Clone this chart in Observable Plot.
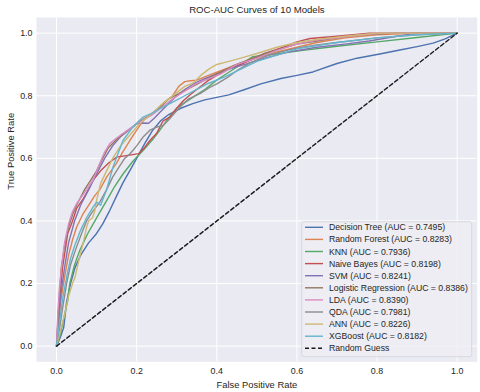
<!DOCTYPE html>
<html><head><meta charset="utf-8">
<script src="https://cdn.jsdelivr.net/npm/d3@7"></script>
<script src="https://cdn.jsdelivr.net/npm/@observablehq/plot@0.6"></script>
<style>body{margin:0;background:#fff} svg{font-family:"Liberation Sans",Arial,sans-serif}</style>
</head><body><div id="chart"></div>
<script>
const modelNames = ["Decision Tree","Random Forest","KNN","Naive Bayes","SVM","Logistic Regression","LDA","QDA","ANN","XGBoost"];
const aucValues = ["0.7495","0.8283","0.7936","0.8198","0.8241","0.8386","0.8390","0.7981","0.8226","0.8182"];
const palette = ["#4C72B0","#DD8452","#55A868","#C44E52","#8172B3","#937860","#DA8BC3","#8C8C8C","#CCB974","#64B5CD"];
const tickValues = [0,0.2,0.4,0.6,0.8,1.0];

const decisionTree = [[0,0],[0.01,0.03],[0.018,0.06],[0.025,0.14],[0.035,0.2],[0.046,0.25],[0.06,0.29],[0.08,0.33],[0.1,0.36],[0.115,0.39],[0.133,0.434],[0.15,0.48],[0.165,0.52],[0.183,0.561],[0.2,0.6],[0.22,0.647],[0.24,0.69],[0.26,0.72],[0.28,0.74],[0.31,0.76],[0.34,0.775],[0.37,0.787],[0.4,0.795],[0.43,0.803],[0.47,0.82],[0.51,0.838],[0.56,0.855],[0.6,0.865],[0.64,0.876],[0.7,0.903],[0.75,0.92],[0.81,0.934],[0.86,0.947],[0.9,0.957],[0.94,0.968],[0.97,0.982],[1,1]];
const randomForest = [[0,0],[0.005,0.06],[0.01,0.14],[0.02,0.22],[0.03,0.29],[0.04,0.34],[0.05,0.38],[0.065,0.42],[0.08,0.45],[0.095,0.48],[0.108,0.5],[0.125,0.54],[0.15,0.585],[0.165,0.62],[0.183,0.657],[0.2,0.69],[0.216,0.72],[0.235,0.74],[0.255,0.76],[0.27,0.78],[0.29,0.8],[0.305,0.83],[0.32,0.845],[0.335,0.848],[0.35,0.85],[0.37,0.86],[0.4,0.875],[0.43,0.89],[0.46,0.905],[0.5,0.92],[0.55,0.94],[0.6,0.955],[0.65,0.97],[0.72,0.985],[0.8,0.995],[0.9,1],[1,1]];
const knn = [[0,0],[0.01,0.04],[0.02,0.1],[0.028,0.146],[0.033,0.2],[0.045,0.26],[0.058,0.306],[0.078,0.36],[0.1,0.41],[0.125,0.465],[0.145,0.51],[0.166,0.55],[0.19,0.59],[0.216,0.625],[0.24,0.66],[0.258,0.69],[0.28,0.73],[0.3,0.76],[0.316,0.775],[0.34,0.795],[0.37,0.82],[0.4,0.85],[0.43,0.875],[0.46,0.9],[0.49,0.925],[0.55,0.934],[0.61,0.944],[0.7,0.958],[0.8,0.972],[0.9,0.986],[1,1]];
const naiveBayes = [[0,0],[0.005,0.1],[0.01,0.18],[0.015,0.25],[0.022,0.31],[0.028,0.36],[0.04,0.4],[0.05,0.44],[0.066,0.47],[0.08,0.5],[0.091,0.53],[0.11,0.56],[0.13,0.585],[0.15,0.604],[0.17,0.608],[0.19,0.612],[0.205,0.615],[0.22,0.635],[0.233,0.657],[0.25,0.68],[0.266,0.72],[0.283,0.732],[0.3,0.76],[0.317,0.785],[0.335,0.805],[0.358,0.828],[0.38,0.85],[0.4,0.865],[0.43,0.885],[0.46,0.9],[0.483,0.913],[0.52,0.935],[0.566,0.955],[0.6,0.972],[0.633,0.983],[0.7,0.99],[0.78,1],[1,1]];
const svm = [[0,0],[0.005,0.08],[0.01,0.16],[0.02,0.25],[0.03,0.33],[0.045,0.4],[0.06,0.45],[0.08,0.5],[0.1,0.55],[0.12,0.6],[0.14,0.64],[0.16,0.67],[0.18,0.69],[0.2,0.71],[0.215,0.713],[0.23,0.712],[0.245,0.73],[0.26,0.75],[0.28,0.775],[0.3,0.8],[0.32,0.82],[0.345,0.84],[0.37,0.855],[0.4,0.87],[0.43,0.885],[0.47,0.9],[0.52,0.92],[0.58,0.94],[0.65,0.955],[0.72,0.965],[0.78,0.975],[0.85,0.99],[0.9,1],[1,1]];
const logisticRegression = [[0,0],[0.004,0.1],[0.008,0.18],[0.012,0.25],[0.02,0.32],[0.03,0.38],[0.04,0.42],[0.05,0.45],[0.058,0.47],[0.07,0.5],[0.085,0.53],[0.1,0.56],[0.115,0.6],[0.13,0.635],[0.15,0.66],[0.17,0.68],[0.19,0.7],[0.21,0.72],[0.235,0.74],[0.26,0.765],[0.28,0.79],[0.31,0.81],[0.34,0.83],[0.37,0.85],[0.4,0.87],[0.44,0.895],[0.48,0.915],[0.52,0.935],[0.56,0.95],[0.6,0.965],[0.65,0.975],[0.7,0.985],[0.76,0.995],[0.85,1],[1,1]];
const lda = [[0,0],[0.003,0.1],[0.007,0.18],[0.0125,0.252],[0.02,0.33],[0.03,0.39],[0.04,0.43],[0.05,0.455],[0.058,0.47],[0.075,0.5],[0.091,0.53],[0.105,0.575],[0.12,0.62],[0.133,0.647],[0.15,0.665],[0.166,0.68],[0.183,0.695],[0.2,0.71],[0.22,0.725],[0.24,0.74],[0.26,0.76],[0.29,0.79],[0.32,0.815],[0.35,0.84],[0.38,0.855],[0.41,0.87],[0.45,0.9],[0.5,0.92],[0.55,0.945],[0.6,0.965],[0.65,0.978],[0.7,0.985],[0.76,0.995],[0.82,1],[1,1]];
const qda = [[0,0],[0.008,0.06],[0.015,0.12],[0.025,0.2],[0.035,0.26],[0.048,0.31],[0.0625,0.36],[0.075,0.4],[0.09,0.43],[0.108,0.46],[0.125,0.5],[0.14,0.54],[0.155,0.57],[0.17,0.6],[0.183,0.614],[0.2,0.64],[0.216,0.668],[0.233,0.69],[0.25,0.7],[0.266,0.705],[0.285,0.73],[0.308,0.764],[0.33,0.79],[0.358,0.807],[0.38,0.825],[0.4,0.838],[0.425,0.857],[0.45,0.88],[0.483,0.905],[0.52,0.925],[0.56,0.94],[0.6,0.952],[0.65,0.962],[0.7,0.97],[0.8,0.985],[0.9,0.995],[1,1]];
const ann = [[0,0],[0.01,0.05],[0.02,0.1],[0.03,0.16],[0.04,0.2],[0.046,0.22],[0.055,0.27],[0.066,0.327],[0.075,0.38],[0.08,0.4],[0.09,0.41],[0.095,0.43],[0.1,0.466],[0.11,0.52],[0.125,0.56],[0.14,0.6],[0.16,0.64],[0.18,0.67],[0.2,0.7],[0.22,0.725],[0.24,0.745],[0.26,0.77],[0.28,0.79],[0.3,0.81],[0.32,0.83],[0.34,0.84],[0.36,0.865],[0.38,0.885],[0.4,0.9],[0.43,0.91],[0.46,0.92],[0.5,0.935],[0.55,0.955],[0.6,0.97],[0.65,0.98],[0.72,0.99],[0.8,1],[1,1]];
const xgboost = [[0,0],[0.008,0.08],[0.015,0.15],[0.025,0.22],[0.035,0.28],[0.045,0.32],[0.06,0.37],[0.075,0.41],[0.091,0.444],[0.1,0.46],[0.11,0.45],[0.125,0.5],[0.141,0.572],[0.155,0.62],[0.166,0.657],[0.19,0.7],[0.216,0.732],[0.24,0.745],[0.26,0.76],[0.29,0.78],[0.32,0.8],[0.35,0.82],[0.38,0.84],[0.42,0.86],[0.46,0.885],[0.5,0.91],[0.55,0.93],[0.6,0.95],[0.65,0.96],[0.7,0.97],[0.8,0.985],[0.9,0.995],[1,1]];
const randomGuess = [[0,0],[1,1]];

const curves = [decisionTree, randomForest, knn, naiveBayes, svm, logisticRegression, lda, qda, ann, xgboost];
const labels = modelNames.map((m,i) => `${m} (AUC = ${aucValues[i]})`);
const rows = curves.flatMap((c,i) => c.map(([fpr,tpr]) => ({model: labels[i], fpr, tpr})));
const fmt = d3.format(".1f");
const ink = "#262626";

const chart = Plot.plot({
  width: 480, height: 392,
  marginLeft: 36, marginRight: 3.3, marginTop: 17, marginBottom: 30.7,
  x: {domain: [-0.05, 1.05]},
  y: {domain: [-0.05, 1.05]},
  color: {domain: labels, range: palette},
  style: {fontFamily: '"Liberation Sans", Arial, sans-serif', fontSize: "8.9px", color: ink, background: "#fff"},
  marks: [
    Plot.frame({fill: "#EAEAF2", stroke: null}),
    Plot.gridX(tickValues, {stroke: "#fff", strokeOpacity: 1, strokeWidth: 1}),
    Plot.gridY(tickValues, {stroke: "#fff", strokeOpacity: 1, strokeWidth: 1}),
    Plot.axisX(tickValues, {tickSize: 0, tickPadding: 6, tickFormat: fmt, label: null, fill: ink}),
    Plot.axisY(tickValues, {tickSize: 0, tickPadding: 4, tickFormat: fmt, label: null, fill: ink}),
    Plot.line(rows, {x: "fpr", y: "tpr", z: "model", stroke: "model", strokeWidth: 1.4}),
    Plot.line(randomGuess, {x: d => d[0], y: d => d[1], stroke: "#1a1a1a", strokeWidth: 1.4, strokeDasharray: "4,2.5"}),
    Plot.text(["ROC-AUC Curves of 10 Models"], {frameAnchor: "top", lineAnchor: "middle", dy: -8, fontSize: 9.6, fill: ink}),
    Plot.text(["False Positive Rate"], {frameAnchor: "bottom", lineAnchor: "middle", dy: 23, fontSize: 9.4, fill: ink}),
    Plot.text(["True Positive Rate"], {frameAnchor: "left", lineAnchor: "middle", dx: -26, rotate: -90, fontSize: 9.4, fill: ink})
  ]
});
document.getElementById("chart").appendChild(chart);

// legend (inside the axes, lower right)
const svg = d3.select(chart);
const lg = svg.append("g").attr("text-anchor", "start");
const entries = labels.map((l,i) => ({label: l, color: palette[i], dash: null}))
  .concat([{label: "Random Guess", color: "#1a1a1a", dash: "4,2.5"}]);
lg.append("rect").attr("x", 301.7).attr("y", 221.7).attr("width", 170).attr("height", 135)
  .attr("rx", 2.5).attr("fill", "#EDEDF3").attr("fill-opacity", 0.85).attr("stroke", "#d2d2d8").attr("stroke-width", 0.8);
entries.forEach((e,i) => {
  const y = 227.3 + i * 12.1;
  lg.append("line").attr("x1", 305).attr("x2", 323).attr("y1", y).attr("y2", y)
    .attr("stroke", e.color).attr("stroke-width", 1.4).attr("stroke-dasharray", e.dash);
  lg.append("text").attr("x", 329).attr("y", y).attr("dy", "0.35em").attr("text-anchor", "start")
    .attr("font-size", 8.7).attr("fill", ink).text(e.label);
});
</script></body></html>
